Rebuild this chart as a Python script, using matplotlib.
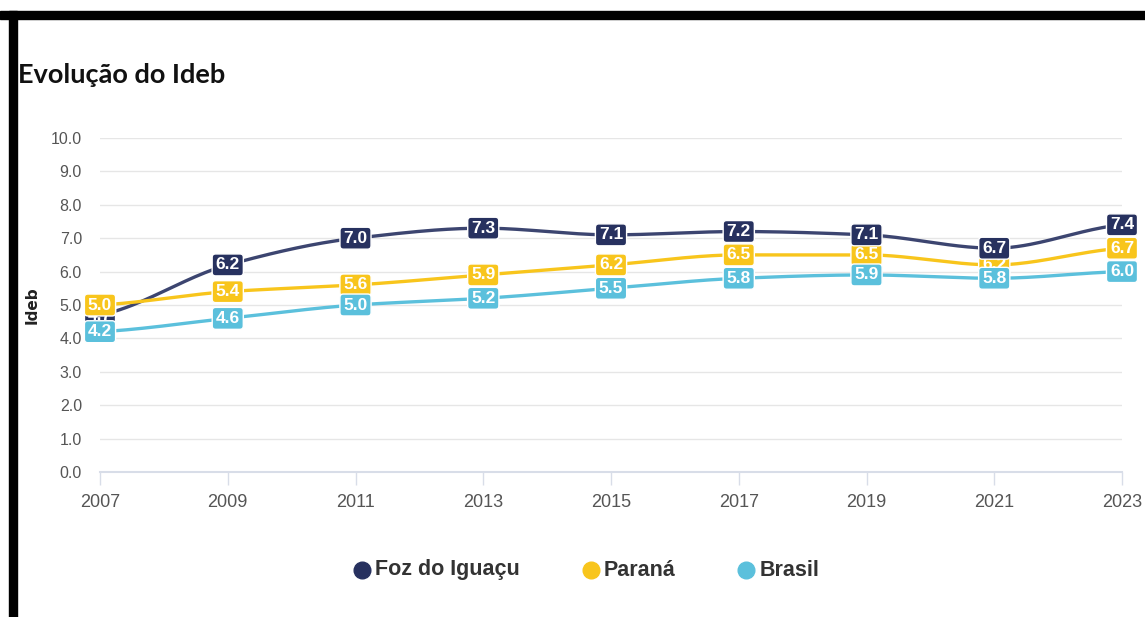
import numpy as np
import matplotlib
matplotlib.use("Agg")
import matplotlib.pyplot as plt
from matplotlib.patches import Rectangle
from matplotlib.lines import Line2D

# data
years = [2007, 2009, 2011, 2013, 2015, 2017, 2019, 2021, 2023]
foz = [4.7, 6.2, 7.0, 7.3, 7.1, 7.2, 7.1, 6.7, 7.4]
parana = [5.0, 5.4, 5.6, 5.9, 6.2, 6.5, 6.5, 6.2, 6.7]
brasil = [4.2, 4.6, 5.0, 5.2, 5.5, 5.8, 5.9, 5.8, 6.0]
names = ["Foz do Iguaçu", "Paraná", "Brasil"]
y_ticks = [0, 1, 2, 3, 4, 5, 6, 7, 8, 9, 10]

box_colors = ["#27315f", "#f8c51c", "#5bc0dc"]
line_colors = ["#3c4570", "#f8c51c", "#5bc0dc"]


def smooth(x, y, n=40):
    # monotone cubic (pchip style) just for drawing the line
    x = np.asarray(x, float)
    y = np.asarray(y, float)
    h = np.diff(x)
    d = np.diff(y) / h
    m = np.zeros_like(y)
    for i in range(1, len(y) - 1):
        if d[i - 1] * d[i] > 0:
            w1 = 2 * h[i] + h[i - 1]
            w2 = h[i] + 2 * h[i - 1]
            m[i] = (w1 + w2) / (w1 / d[i - 1] + w2 / d[i])
    m[0] = d[0] * 0.5
    m[-1] = d[-1] * 0.5
    xs, ys = [], []
    for i in range(len(x) - 1):
        t = np.linspace(0, 1, n)
        h00 = 2 * t**3 - 3 * t**2 + 1
        h10 = t**3 - 2 * t**2 + t
        h01 = -2 * t**3 + 3 * t**2
        h11 = t**3 - t**2
        xs.append(x[i] + t * h[i])
        ys.append(h00 * y[i] + h10 * h[i] * m[i] + h01 * y[i + 1] + h11 * h[i] * m[i + 1])
    return np.concatenate(xs), np.concatenate(ys)


W, H = 1145, 617
fig = plt.figure(figsize=(W / 100, H / 100), dpi=100)
fig.patch.set_facecolor("white")

ax = fig.add_axes([100 / W, 1 - 472 / H, (1122 - 100) / W, (472 - 138) / H])
ax.set_xlim(2007, 2023)
ax.set_ylim(0, 10)

ax.set_yticks(y_ticks)
ax.set_yticklabels([f"{v:.1f}" for v in y_ticks], fontsize=11.5, color="#555555",
                   family="Liberation Sans")
ax.set_xticks(years)
ax.set_xticklabels([str(y) for y in years], fontsize=13, color="#555555",
                   family="Liberation Sans")
ax.tick_params(axis="y", length=0, pad=13)
ax.tick_params(axis="x", length=9, width=1, color="#d8dde8", pad=7)
ax.grid(axis="y", color="#e6e6e6", lw=1)
ax.set_axisbelow(True)
for s in ["top", "right", "left"]:
    ax.spines[s].set_visible(False)
ax.spines["bottom"].set_color("#d8dde8")
ax.spines["bottom"].set_linewidth(1.5)

ax.set_ylabel("Ideb", fontsize=11, fontweight="heavy", color="#222222",
              family="DejaVu Sans")
ax.yaxis.set_label_coords(-60 / (1122 - 100), 0.5)

series = [foz, parana, brasil]
for vals, lc in zip(series, line_colors):
    sx, sy = smooth(years, vals)
    ax.plot(sx, sy, color=lc, lw=2.4, zorder=3, clip_on=False, solid_capstyle="round")

# data labels
label_z = {0: 6, 1: 5, 2: 7}
for k, (vals, bc) in enumerate(zip(series, box_colors)):
    for i, (x, v) in enumerate(zip(years, vals)):
        z = label_z[k]
        if k == 0 and v < parana[i]:
            z = 4
        ax.text(x, v, f"{v:.1f}", ha="center", va="center", fontsize=12.5,
                fontweight="bold", color="white", family="Liberation Sans",
                zorder=z, clip_on=False,
                bbox=dict(boxstyle="round,pad=0.2,rounding_size=0.2",
                          fc=bc, ec="white", lw=1))

# title
fig.text(18 / W, 1 - 75 / H, "Evolução do Ideb", fontsize=19.5, fontweight="bold",
         family="Lato", color="#111111", va="center", ha="left")

# legend
dots = [362, 591, 746]
texts = [375, 604, 760]
ly = 1 - 570 / H
for name, c, dx, tx in zip(names, box_colors, dots, texts):
    fig.add_artist(Line2D([dx / W], [ly], marker="o", markersize=12, color=c,
                          transform=fig.transFigure, lw=0))
    fig.text(tx / W, ly, name, fontsize=15.5, fontweight="bold", color="#333333",
             family="Liberation Sans", va="center", ha="left")

# black frame on top and left edges
fig.add_artist(Rectangle((0, 1 - 19 / H), 1, 8 / H, transform=fig.transFigure,
                         color="black", zorder=10))
fig.add_artist(Rectangle((9 / W, 0), 8 / W, 1 - 11 / H, transform=fig.transFigure,
                         color="black", zorder=10))

fig.savefig("out.png", dpi=100)
